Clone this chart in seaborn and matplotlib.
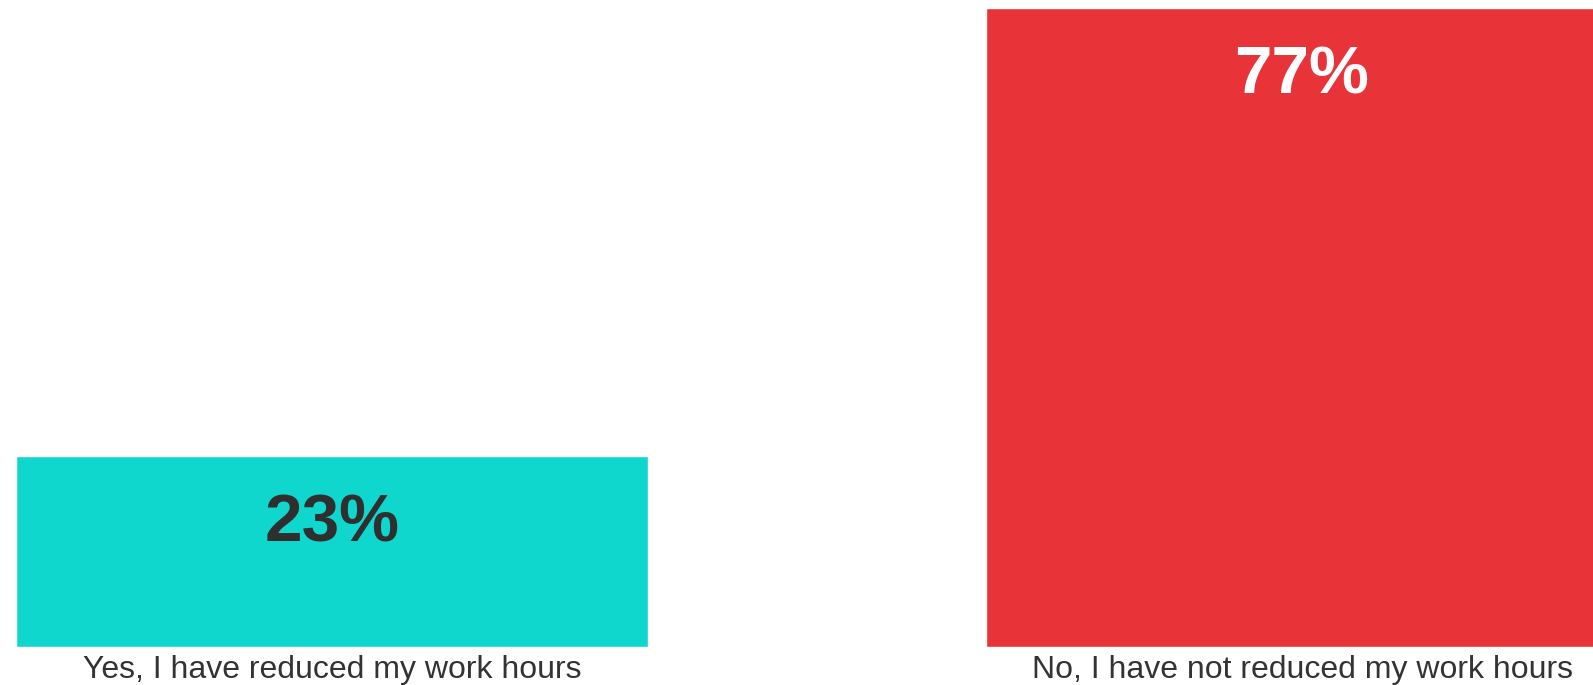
import matplotlib
matplotlib.use("Agg")
import matplotlib.pyplot as plt
import seaborn as sns
import pandas as pd

# Survey answers and their shares (percent)
answers = ["Yes, I have reduced my work hours", "No, I have not reduced my work hours"]
shares = [23, 77]
bar_colors = ["#0FD7CD", "#E83339"]
value_text_colors = ["#2F2F2F", "#FFFFFF"]

df = pd.DataFrame({"answer": answers, "share": shares})

sns.set_theme(style="white")
plt.rcParams["font.family"] = ["Liberation Sans", "DejaVu Sans"]

fig = plt.figure(figsize=(15.93, 6.85), dpi=100)
ax = fig.add_axes([0.0, 0.0555, 1.0, 0.9328])

sns.barplot(data=df, x="answer", y="share", hue="answer",
            palette=bar_colors, width=0.652, saturation=1,
            legend=False, ax=ax)

ax.set_xlim(-0.3423, 1.3)
ax.set_ylim(0, 77)
ax.set_xlabel("")
ax.set_ylabel("")
ax.set_yticks([])
for s in ax.spines.values():
    s.set_visible(False)
ax.tick_params(axis="x", length=0, pad=5.5, labelsize=23, labelcolor="#333333")

for i, (v, c) in enumerate(zip(shares, value_text_colors)):
    ax.annotate(f"{v}%", xy=(i, v), xytext=(0, -85), textcoords="offset pixels",
                ha="center", va="baseline", fontsize=48.5, fontweight="bold", color=c)

fig.savefig("out.png", dpi=100)
